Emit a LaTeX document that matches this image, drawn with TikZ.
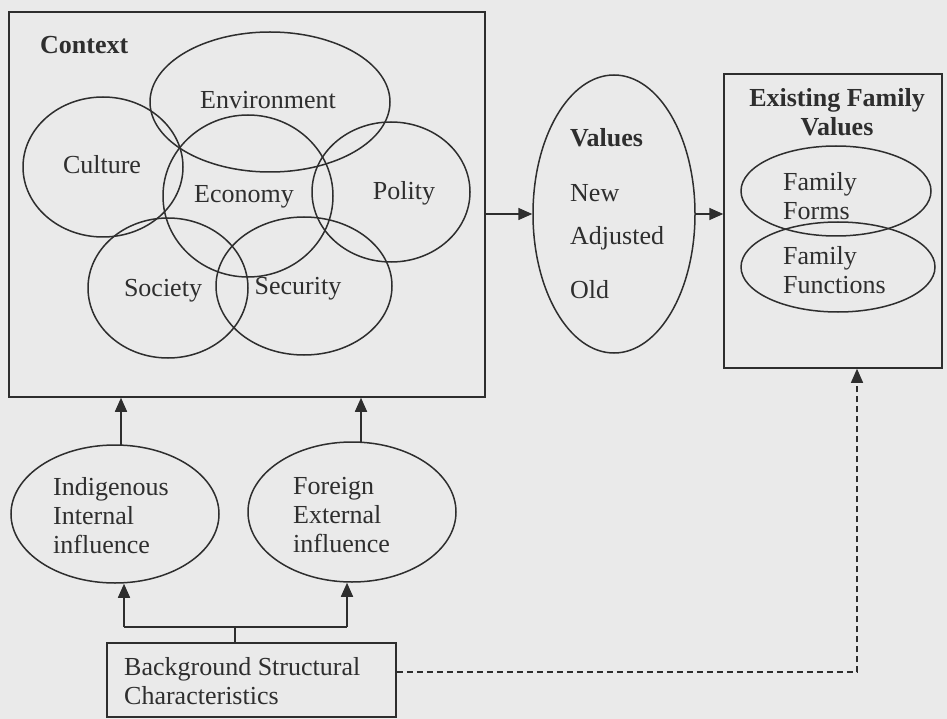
\documentclass[tikz,border=0pt]{standalone}
\usepackage{fontspec}
\setmainfont{Liberation Serif}
\usetikzlibrary{shapes.geometric,arrows.meta}
\definecolor{bg}{HTML}{EAEAEA}
\definecolor{ink}{HTML}{2E2E2E}
\begin{document}
\begin{tikzpicture}[x=1pt,y=-1pt,
  every node/.style={font=\fontsize{26}{29}\selectfont, text=ink},
  ell/.style={ellipse, draw=ink, line width=1.5pt, inner sep=0pt},
  box/.style={rectangle, draw=ink, line width=1.5pt, inner sep=0pt},
  lbl/.style={inner sep=0pt},
  ln/.style={draw=ink, line width=1.6pt},
  arr/.style={draw=ink, line width=1.6pt, -{Triangle[length=14pt,width=12pt]}},
  darr/.style={draw=ink, line width=1.2pt, dash pattern=on 6pt off 4pt, -{Triangle[length=14pt,width=12pt]}},
]
\fill[bg] (0,0) rectangle (947,719);
\useasboundingbox (0,0) rectangle (947,719);

% Context box and its ellipses
\node[box, minimum width=476pt, minimum height=385pt] (ctx) at (247,204.5) {};
\node[lbl, anchor=west, font=\fontsize{26}{29}\selectfont\bfseries] (ctxt) at (40,45) {Context};
\node[ell, minimum width=240pt, minimum height=140pt] (env) at (270,102) {};
\node[ell, minimum width=160pt, minimum height=140pt] (cul) at (103,167) {};
\node[ell, minimum width=170pt, minimum height=162pt] (eco) at (248,196) {};
\node[ell, minimum width=158pt, minimum height=140pt] (pol) at (391,192) {};
\node[ell, minimum width=160pt, minimum height=140pt] (soc) at (168,288) {};
\node[ell, minimum width=176pt, minimum height=138pt] (sec) at (304,286) {};
\node[lbl] (envt) at (268,100) {Environment};
\node[lbl] (cult) at (102,165) {Culture};
\node[lbl] (ecot) at (244,197) {Economy};
\node[lbl] (polt) at (404,193) {Polity};
\node[lbl] (soct) at (163,291) {Society};
\node[lbl] (sect) at (298,289) {Security};

% Values ellipse
\node[ell, minimum width=162pt, minimum height=278pt] (vals) at (614,214) {};
\node[lbl, anchor=west, font=\fontsize{26}{29}\selectfont\bfseries] (vt) at (570,138) {Values};
\node[lbl, anchor=west] (vnew) at (570,193) {New};
\node[lbl, anchor=west] (vadj) at (570,238) {Adjusted};
\node[lbl, anchor=west] (vold) at (570,290) {Old};

% Existing family values
\node[box, minimum width=218pt, minimum height=294pt] (fam) at (833,221) {};
\node[lbl, align=center, font=\fontsize{26}{29}\selectfont\bfseries] (famt) at (837,112) {Existing Family\\Values};
\node[ell, minimum width=190pt, minimum height=90pt] (ffo) at (836,191) {};
\node[ell, minimum width=194pt, minimum height=90pt] (ffu) at (838,267) {};
\node[lbl, anchor=west, align=left] (ffot) at (783,196) {Family\\Forms};
\node[lbl, anchor=west, align=left] (ffut) at (783,270) {Family\\Functions};

% Influences
\node[ell, minimum width=208pt, minimum height=138pt] (ind) at (115,514) {};
\node[ell, minimum width=208pt, minimum height=140pt] (for) at (352,512) {};
\node[lbl, anchor=west, align=left] (indt) at (53,516) {Indigenous\\Internal\\influence};
\node[lbl, anchor=west, align=left] (fort) at (293,515) {Foreign\\External\\influence};

% Background box
\node[box, minimum width=289pt, minimum height=74pt] (bgb) at (251.5,680) {};
\node[lbl, anchor=west, align=left] (bgt) at (124,681) {Background Structural\\Characteristics};

% Connectors
\draw[arr] (ctx.east |- vals.west) -- (vals.west);
\draw[arr] (vals.east) -- (vals.east -| fam.west);
\coordinate (iu) at (121,445);
\coordinate (fu) at (361,443);
\draw[arr] (iu) -- (iu |- ctx.south);
\draw[arr] (fu) -- (fu |- ctx.south);
\coordinate (jl) at (124,627);
\coordinate (jr) at (347,627);
\coordinate (jm) at (235,627);
\draw[ln] (jl) -- (jr);
\draw[ln] (jm |- bgb.north) -- (jm);
\draw[arr] (jl) -- (jl |- ind.south);
\draw[arr] (jr) -- (jr |- for.south);
\coordinate (dc) at (857,672);
\draw[darr] (bgb.east |- dc) -- (dc) -- (dc |- fam.south);
\end{tikzpicture}
\end{document}
